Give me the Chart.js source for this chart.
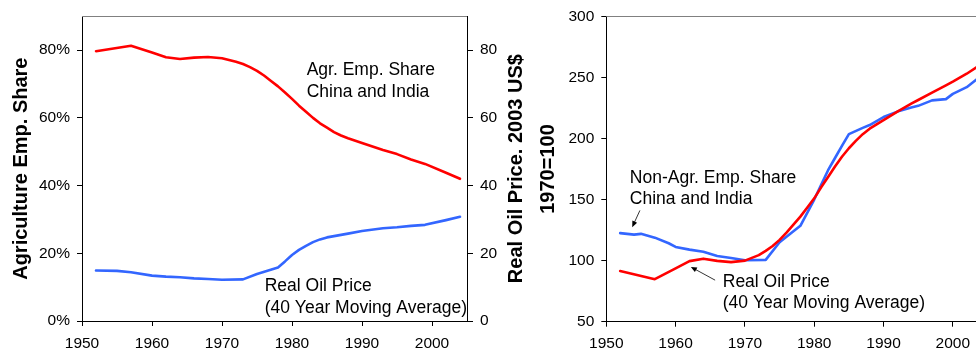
<!DOCTYPE html>
<html><head><meta charset="utf-8">
<script src="https://cdn.jsdelivr.net/npm/chart.js@4.4.1/dist/chart.umd.min.js"></script>
<style>
html,body{margin:0;padding:0;background:#fff;overflow:hidden;width:976px;height:351px;}
#c1{position:absolute;left:0;top:0;}
#c2{position:absolute;left:530px;top:0;}
</style></head><body>
<canvas id="c1" width="540" height="351"></canvas>
<canvas id="c2" width="470" height="351"></canvas>
<script>
// ---- data ----
// left panel: agricultural employment share (%) and real oil price (2003 US$)
const agrYears  = [1952,1957,1960,1962,1964,1966,1968,1970,1972,1973,1974,1975,1976,1977,1978,1979,1980,1981,1982,1983,1984,1985,1986,1987,1988,1990,1993,1995,1997,1999,2002,2004];
const agrShare  = [79.7,81.3,79.3,77.9,77.4,77.8,78.0,77.6,76.6,75.9,75.0,73.9,72.5,70.9,69.3,67.5,65.6,63.6,61.8,60.0,58.4,57.1,55.8,54.8,54.0,52.6,50.5,49.3,47.7,46.4,43.8,42.0];
const oilYears  = [1952,1955,1957,1960,1962,1964,1966,1968,1970,1973,1975,1978,1979,1980,1981,1982,1983,1984,1985,1988,1990,1993,1995,1997,1999,2002,2004];
const oilPrice  = [14.9,14.8,14.4,13.4,13.1,12.9,12.6,12.4,12.2,12.3,13.9,15.8,17.6,19.5,21.0,22.2,23.3,24.1,24.7,25.8,26.6,27.4,27.7,28.1,28.4,29.8,30.8];

// right panel: both series indexed, 1970=100
const nonAgrYears = [1952,1957,1960,1962,1964,1966,1968,1970,1972,1973,1974,1975,1976,1977,1978,1979,1980,1981,1982,1983,1984,1985,1986,1987,1988,1989,1990,1992,1994,1995,1997,1999,2000,2002,2004];
const nonAgrIndex = [91.5,84.8,93.6,99.6,101.6,99.8,98.8,100,104.5,108,112,117,123,129.5,136,143.5,151,160,168.5,177,185,192,198,203.5,208,211.5,215,222,228.5,231.5,237.5,243.5,246.5,253,260.5];
const oilIdxYears = [1952,1954,1955,1957,1959,1960,1962,1964,1966,1968,1970,1973,1975,1978,1980,1981,1982,1983,1984,1985,1987,1988,1990,1992,1994,1995,1997,1999,2000,2002,2004];
const oilIndex    = [122.5,121.3,121.9,118.8,114.2,111.2,109,107.2,103.8,102.2,100.3,100.6,115,128.5,150,162,174,184,194,203.6,208.7,211,217.5,222,225.3,226.7,231.2,232.2,236.5,242,251];

const xTicks = [1950,1960,1970,1980,1990,2000];
const leftShareTicks = [0,20,40,60,80];
const leftPriceTicks = [0,20,40,60,80];
const rightIndexTicks = [50,100,150,200,250,300];

const leftTitle = 'Agriculture Emp. Share';
const leftRightTitle = 'Real Oil Price. 2003 US$';
const rightTitle = '1970=100';

// annotations anchored in data units
const leftNotes = [
  {lines:['Agr. Emp. Share','China and India'], x:1982.1, y:72.6, axis:'y'},
  {lines:['Real Oil Price','(40 Year Moving Average)'], x:1976.1, y:8.8, axis:'y2'}
];
const rightNotes = [
  {lines:['Non-Agr. Emp. Share','China and India'], x:1953.4, y:163.3},
  {lines:['Real Oil Price','(40 Year Moving Average)'], x:1966.8, y:78.0}
];
const rightArrows = [
  {from:[1954.85,141.1], to:[1953.74,127.4]},
  {from:[1965.7,84.0], to:[1962.2,94.8]}
];

// ---- styling ----
const FONT = "'Liberation Sans', Arial, Helvetica, sans-serif";
const RED = '#FF0000', BLUE = '#3366FF';
Chart.defaults.font.family = FONT;
Chart.defaults.color = '#000';

function pts(xs, ys){ return xs.map((x,i)=>({x:x, y:ys[i]})); }
function fixTicks(list){ return function(scale){ scale.ticks = list.map(v=>({value:v})); }; }
const tickFont = {size:15.5, family:FONT};
const gridOpt = {display:true, drawOnChartArea:false, drawTicks:true, tickLength:5, color:'#000', lineWidth:1};
const borderOpt = {display:true, color:'#000', width:1};

function drawNote(ctx, lines, px, py, gap){
  ctx.save();
  ctx.font = '17.5px ' + FONT;
  ctx.fillStyle = '#000';
  ctx.textAlign = 'left';
  ctx.textBaseline = 'alphabetic';
  lines.forEach((t,i)=>ctx.fillText(t, px, py + i*gap));
  ctx.restore();
}
function topBorder(chart){
  const a = chart.chartArea, ctx = chart.ctx;
  ctx.save();
  ctx.strokeStyle = '#808080'; ctx.lineWidth = 1;
  ctx.beginPath(); ctx.moveTo(a.left, Math.round(a.top)+0.5); ctx.lineTo(a.right, Math.round(a.top)+0.5); ctx.stroke();
  ctx.restore();
}

const leftPlugin = {
  id:'leftExtras',
  afterDraw(chart){
    const ctx = chart.ctx, a = chart.chartArea, xs = chart.scales.x;
    topBorder(chart);
    // right axis title reading bottom-to-top
    ctx.save();
    ctx.translate(516, (a.top + a.bottom)/2);
    ctx.rotate(-Math.PI/2);
    ctx.font = 'bold 20px ' + FONT;
    ctx.fillStyle = '#000'; ctx.textAlign = 'center'; ctx.textBaseline = 'middle';
    ctx.fillText(leftRightTitle, 0, 0);
    ctx.restore();
    leftNotes.forEach(n=>{
      drawNote(ctx, n.lines, xs.getPixelForValue(n.x), chart.scales[n.axis].getPixelForValue(n.y), 21.5);
    });
  }
};

const rightPlugin = {
  id:'rightExtras',
  afterDraw(chart){
    const ctx = chart.ctx, xs = chart.scales.x, ys = chart.scales.y;
    topBorder(chart);
    rightNotes.forEach(n=>drawNote(ctx, n.lines, xs.getPixelForValue(n.x), ys.getPixelForValue(n.y), 21));
    rightArrows.forEach(ar=>{
      const x1 = xs.getPixelForValue(ar.from[0]), y1 = ys.getPixelForValue(ar.from[1]);
      const x2 = xs.getPixelForValue(ar.to[0]), y2 = ys.getPixelForValue(ar.to[1]);
      const ang = Math.atan2(y2-y1, x2-x1);
      ctx.save();
      ctx.strokeStyle = '#000'; ctx.fillStyle = '#000'; ctx.lineWidth = 0.8;
      ctx.beginPath(); ctx.moveTo(x1,y1); ctx.lineTo(x2 - 3*Math.cos(ang), y2 - 3*Math.sin(ang)); ctx.stroke();
      const L = 6, W = 2.6;
      ctx.beginPath();
      ctx.moveTo(x2, y2);
      ctx.lineTo(x2 - L*Math.cos(ang) + W*Math.sin(ang), y2 - L*Math.sin(ang) - W*Math.cos(ang));
      ctx.lineTo(x2 - L*Math.cos(ang) - W*Math.sin(ang), y2 - L*Math.sin(ang) + W*Math.cos(ang));
      ctx.closePath(); ctx.fill();
      ctx.restore();
    });
  }
};

const lineDs = (label, data, color, axis) => ({
  label, data, borderColor:color, backgroundColor:color, borderWidth:2.6,
  pointRadius:0, tension:0, borderJoinStyle:'round', borderCapStyle:'round', fill:false, yAxisID:axis || 'y'
});

new Chart(document.getElementById('c1'), {
  type:'line',
  data:{datasets:[
    lineDs('Agr. Emp. Share China and India', pts(agrYears, agrShare), RED, 'y'),
    lineDs('Real Oil Price (40 Year Moving Average)', pts(oilYears, oilPrice), BLUE, 'y2')
  ]},
  options:{
    responsive:false, animation:false, devicePixelRatio:1,
    layout:{padding:{top:15, left:0, right:0, bottom:0}},
    plugins:{legend:{display:false}, tooltip:{enabled:false}},
    scales:{
      x:{type:'linear', min:1950, max:2005, afterBuildTicks:fixTicks(xTicks),
         afterFit(s){ s.height = 30; },
         grid:gridOpt, border:borderOpt,
         ticks:{font:tickFont, padding:8, maxRotation:0, autoSkip:false, callback:v=>String(v)}},
      y:{type:'linear', position:'left', min:0, max:90, afterBuildTicks:fixTicks(leftShareTicks),
         afterFit(s){ s.width = 82; },
         grid:gridOpt, border:borderOpt,
         title:{display:true, text:leftTitle, font:{size:20, weight:'bold', family:FONT}, padding:{top:9, bottom:0}, color:'#000'},
         ticks:{font:tickFont, padding:7, callback:v=>v+'%'}},
      y2:{type:'linear', position:'right', min:0, max:90, afterBuildTicks:fixTicks(leftPriceTicks),
         afterFit(s){ s.width = 73; },
         grid:Object.assign({}, gridOpt, {tickLength:6}), border:borderOpt,
         ticks:{font:tickFont, padding:7, callback:v=>String(v)}}
    }
  },
  plugins:[leftPlugin]
});

new Chart(document.getElementById('c2'), {
  type:'line',
  data:{datasets:[
    lineDs('Non-Agr. Emp. Share (1970=100)', pts(nonAgrYears, nonAgrIndex), RED, 'y'),
    lineDs('Real Oil Price (1970=100)', pts(oilIdxYears, oilIndex), BLUE, 'y')
  ]},
  options:{
    responsive:false, animation:false, devicePixelRatio:1,
    layout:{padding:{top:15, left:0, right:12.5, bottom:0}},
    plugins:{legend:{display:false}, tooltip:{enabled:false}},
    scales:{
      x:{type:'linear', min:1950, max:2005, afterBuildTicks:fixTicks(xTicks),
         afterFit(s){ s.height = 29.3; },
         grid:gridOpt, border:borderOpt,
         ticks:{font:tickFont, padding:8, maxRotation:0, autoSkip:false, callback:v=>String(v)}},
      y:{type:'linear', position:'left', min:50, max:300, afterBuildTicks:fixTicks(rightIndexTicks),
         afterFit(s){ s.width = 76.3; },
         grid:gridOpt, border:borderOpt,
         title:{display:true, text:rightTitle, font:{size:20, weight:'bold', family:FONT}, padding:{top:6, bottom:0}, color:'#000'},
         ticks:{font:tickFont, padding:7, callback:v=>String(v)}}
    }
  },
  plugins:[rightPlugin]
});
</script>
</body></html>
